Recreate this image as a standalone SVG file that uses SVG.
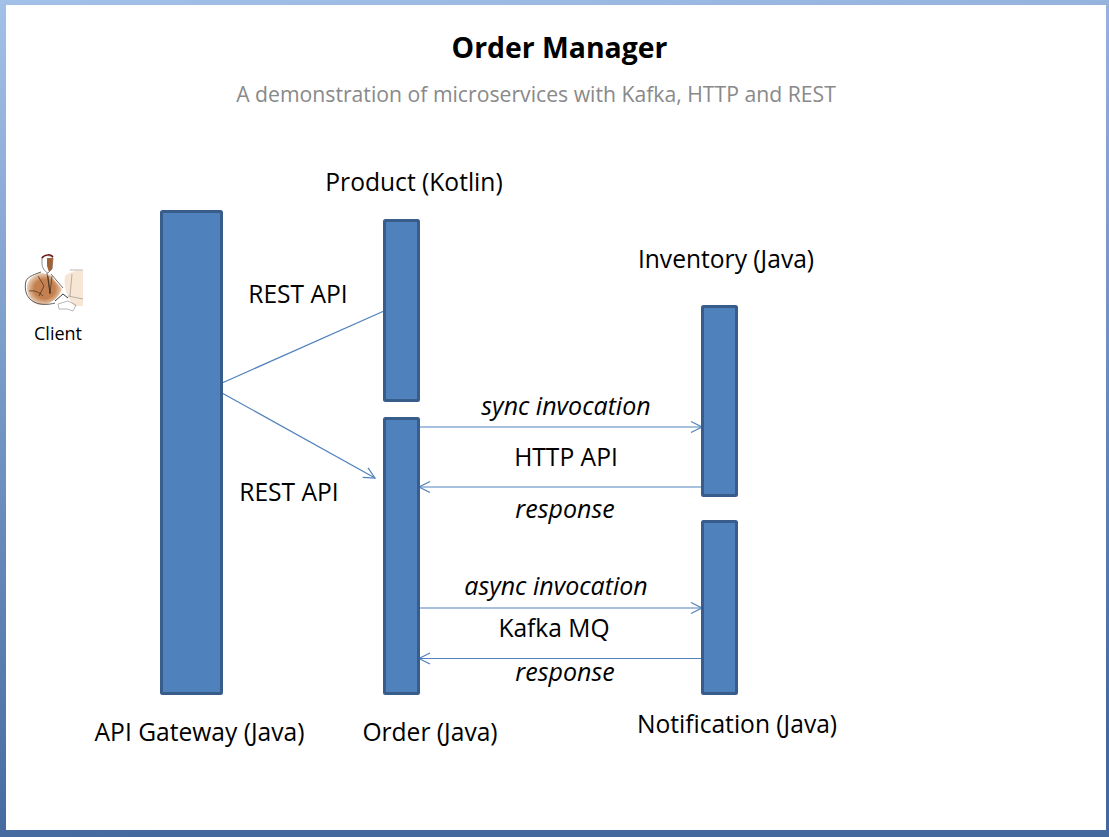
<svg xmlns="http://www.w3.org/2000/svg" width="1109" height="837" viewBox="0 0 1109 837">
<style>
.bar{fill:#4f81bd;stroke:#385d8a;stroke-width:3}
.lab{font-family:"Open Sans","DejaVu Sans",sans-serif;font-size:24.6px;fill:#000}
.it{font-style:italic;font-size:25px}
.c{stroke:#4f81bd;stroke-width:1.2;fill:none}
.arr{stroke:#4f81bd;stroke-width:1.2;fill:none}
</style>
<defs>
<linearGradient id="bg" x1="0" y1="0" x2="0.15" y2="1"><stop offset="0" stop-color="#a3c0e8"/><stop offset="1" stop-color="#44699f"/></linearGradient>
<marker id="a" markerUnits="userSpaceOnUse" markerWidth="14" markerHeight="14" refX="12" refY="7" orient="auto"><path d="M1 1.5L12 7L1 12.5" class="arr"/></marker>
<radialGradient id="skin"><stop offset="0.6" stop-color="#c4814f"/><stop offset="1" stop-color="#ecd0b8"/></radialGradient>
</defs>
<rect width="1109" height="837" fill="url(#bg)"/>
<rect x="6" y="5" width="1100" height="825" fill="#fff"/>
<g id="title">
<text x="559.500" y="58" text-anchor="middle" font-family="'Open Sans','DejaVu Sans',sans-serif" font-size="28.400" font-weight="700">Order Manager</text>
<text x="536" y="102" text-anchor="middle" font-family="'Open Sans','DejaVu Sans',sans-serif" font-size="21.200" fill="#898989">A demonstration of microservices with Kafka, HTTP and REST</text>
</g>
<g id="client">
<path d="M27 285c2-8 10-12 15-12l8 2l12 14c-3 8-10 15-20 16c-9 0-16-8-15-20z" fill="url(#skin)"/>
<path d="M41 272c-5 2-13 4-15 9c-2 8 0 17 8 21c6 3 14 3 21 1" fill="none" stroke="#333" stroke-width="0.8"/>
<path d="M47 273l3 20M38 276l6 10l-5 10M29 291c5-1 10 1 14 5M51 274l12 14M48 276l2 18l2-18" fill="none" stroke="#3a2a20" stroke-width="0.7"/>
<path d="M42 257c3-2 9-2 11 1l-1 11l-4 4c-3-1-6-5-6-10z" fill="#fff" stroke="#444" stroke-width="0.6"/>
<path d="M47 258l6 0l-1 11l-3 3l-2-6z" fill="#a06234"/>
<path d="M42 258c3-4 9-4 11-1" fill="none" stroke="#6e1616" stroke-width="1.5"/>
<path d="M65 276c4-4 12-6 18-5v35l-9 0c-7-8-11-20-9-30z" fill="#f8e6d4"/>
<path d="M72 274l-2 22M68 296l15 3M58 304l10-3l8 4l-3 6l-6-2l-8 0zM70 270l13 0" fill="none" stroke="#888" stroke-width="0.6"/>
<path d="M55 301l8-7l5 4" fill="none" stroke="#222" stroke-width="0.9"/>
<text x="58" y="340" text-anchor="middle" font-family="'Open Sans','DejaVu Sans',sans-serif" font-size="18">Client</text>
</g>
<g id="connectors">
<path class="c" d="M222 383L384 311"/>
<path class="c" d="M222 393L375 478" marker-end="url(#a)"/>
<path class="c" d="M419 427H702" marker-end="url(#a)"/>
<path class="c" d="M702 487H419" marker-end="url(#a)"/>
<path class="c" d="M419 608H702" marker-end="url(#a)"/>
<path class="c" d="M702 658.500H419" marker-end="url(#a)"/>
</g>
<g id="gateway"><rect class="bar" x="161.500" y="211.500" width="60" height="482" rx="1"/><text class="lab" x="199.500" y="741" text-anchor="middle">API Gateway (Java)</text></g>
<g id="product"><rect class="bar" x="384.500" y="220.500" width="34" height="180" rx="1"/><text class="lab" x="414" y="191" text-anchor="middle">Product (Kotlin)</text></g>
<g id="order"><rect class="bar" x="384.500" y="418.500" width="34" height="275" rx="1"/><text class="lab" x="430" y="741" text-anchor="middle">Order (Java)</text></g>
<g id="inventory"><rect class="bar" x="702.500" y="306.500" width="34" height="189" rx="1"/><text class="lab" x="726" y="268" text-anchor="middle">Inventory (Java)</text></g>
<g id="notification"><rect class="bar" x="702.500" y="521.500" width="34" height="172" rx="1"/><text class="lab" x="737" y="733" text-anchor="middle">Notification (Java)</text></g>
<g id="labels">
<text class="lab" x="298" y="303" text-anchor="middle">REST API</text>
<text class="lab" x="289" y="501" text-anchor="middle">REST API</text>
<text class="lab it" x="566" y="415" text-anchor="middle">sync invocation</text>
<text class="lab" x="566" y="466" text-anchor="middle">HTTP API</text>
<text class="lab it" x="565" y="518" text-anchor="middle">response</text>
<text class="lab it" x="556" y="595" text-anchor="middle">async invocation</text>
<text class="lab" x="554" y="637" text-anchor="middle">Kafka MQ</text>
<text class="lab it" x="565" y="681" text-anchor="middle">response</text>
</g>
</svg>
